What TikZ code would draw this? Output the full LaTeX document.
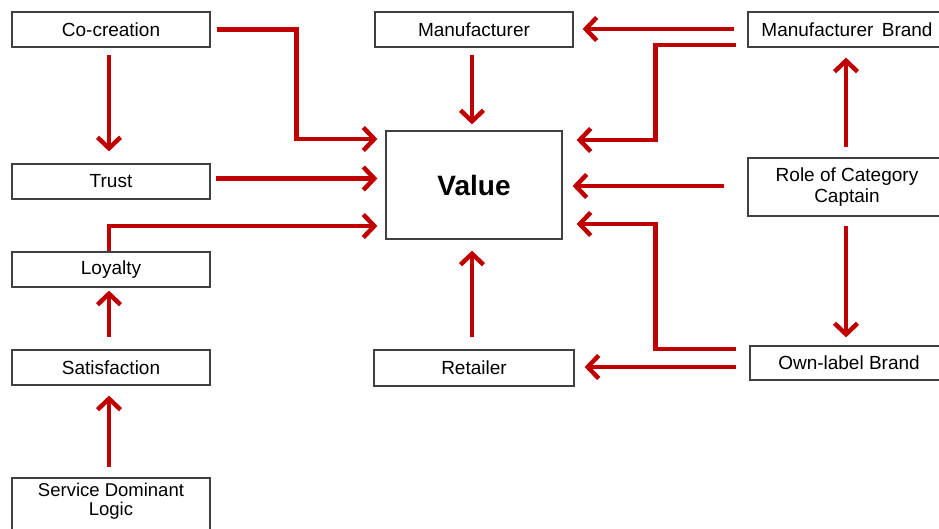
\documentclass[tikz,border=0pt]{standalone}
\usepackage{fontspec}
\setmainfont{Liberation Sans}
\usetikzlibrary{arrows.meta,calc}
\definecolor{arrred}{HTML}{C00000}
\definecolor{boxgray}{HTML}{404040}
\begin{document}
\begin{tikzpicture}[x=1pt,y=-1pt,
  box/.style={draw=boxgray,line width=1.2pt,fill=white,minimum width=198pt,minimum height=35pt,inner sep=0pt,align=center,font=\fontsize{19}{21}\selectfont},
  arr/.style={draw=arrred,line width=4.5pt,-{Straight Barb[length=11pt,width=23pt]}}]
\clip (0,0) rectangle (939,529);
\fill[white] (0,0) rectangle (939,529);
% left column
\node[box] (cc) at (111,29.5) {Co-creation};
\node[box] (tr) at (111,181.5) {Trust};
\node[box] (loy) at (111,269.5) {Loyalty};
\node[box] (sat) at (111,367.5) {Satisfaction};
\node[box,minimum height=70pt] (sdl) at (111,513) {};
\node[align=center,inner sep=0pt,font=\fontsize{18.5}{19}\selectfont] (sdlt) at (111,501) {Service Dominant\\Logic};
% middle column
\node[box] (man) at (474,29.5) {Manufacturer};
\node[box,minimum width=176pt,minimum height=108pt,font=\fontsize{28}{30}\selectfont\bfseries] (val) at (474,185) {Value};
\node[box,minimum width=200pt,minimum height=36pt] (ret) at (474,368) {Retailer};
% right column
\node[box] (mb) at (847,29.5) {Manufacturer\, Brand};
\node[box,minimum height=58pt] (role) at (847,187) {Role of Category\\Captain};
\node[box,minimum height=34pt] (olb) at (849,363) {Own-label Brand};
% arrows left
\draw[arr] ($(cc.east)+(6,0)$) -- ++(80,0) |- ($(val.west)+(-8,-46)$);
\draw[arr] ($(cc.south)+(-2,7)$) -- ($(tr.north)+(-2,-12)$);
\draw[arr] ($(tr.east)+(5,-3)$) -- ($(tr.east -| val.west)+(-8,-3)$);
\draw[arr] ($(loy.north)+(-2,0)$) |- ($(val.west)+(-8,41)$);
\draw[arr] ($(sat.north)+(-2,-12)$) -- ($(loy.south)+(-2,3)$);
\draw[arr] ($(sdl.north)+(-2,-10)$) -- ($(sat.south)+(-2,10)$);
% arrows middle
\draw[arr] ($(man.south)+(-2,7)$) -- ($(val.north)+(-2,-6)$);
\draw[arr] ($(ret.north)+(-2,-12)$) -- ($(val.south)+(-2,11)$);
% arrows right
\draw[arr] ($(mb.west)+(-13,-0.5)$) -- ($(mb.west -| man.east)+(9,-0.5)$);
\draw[arr] ($(mb.west)+(-11,15.5)$) -- ++(-81,0) |- ($(val.east)+(14,-45)$);
\draw[arr] ($(role.west)+(-23,-1)$) -- ($(role.west -| val.east)+(10,-1)$);
\draw[arr] ($(role.north)+(-1,-10)$) -- ($(mb.south)+(-1,10)$);
\draw[arr] ($(role.south)+(-1,9)$) -- ($(olb.north)+(-3,-8)$);
\draw[arr] ($(olb.west)+(-13,-14)$) -- ++(-81,0) |- ($(val.east)+(14,39)$);
\draw[arr] ($(olb.west)+(-13,4)$) -- ($(olb.west -| ret.east)+(10,4)$);
\end{tikzpicture}
\end{document}
